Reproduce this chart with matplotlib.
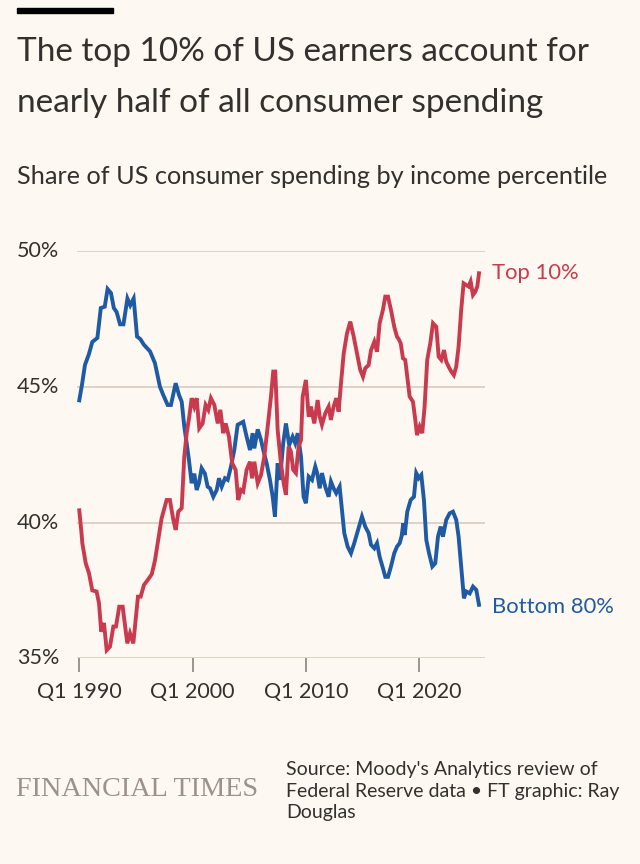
import matplotlib
matplotlib.use("Agg")
import matplotlib.pyplot as plt
import matplotlib.transforms as mtransforms

plt.rcParams["font.family"] = ["Lato", "DejaVu Sans"]

# data (decimal year, share %)
top10_years = [
    1990.0, 1990.2, 1990.27, 1990.57, 1990.86, 1991.15, 1991.53, 1991.74, 1991.94, 1992.18,
    1992.42, 1992.71, 1993.01, 1993.24, 1993.53, 1993.83, 1994.24, 1994.48, 1994.77, 1995.18,
    1995.42, 1995.71, 1996.07, 1996.4, 1996.68, 1996.97, 1997.27, 1997.71, 1998.0, 1998.3,
    1998.51, 1998.74, 1999.04, 1999.27, 1999.48, 1999.71, 1999.92, 2000.15, 2000.36, 2000.59,
    2000.89, 2001.15, 2001.39, 2001.62, 2001.92, 2002.22, 2002.45, 2002.71, 2002.92, 2003.21,
    2003.5, 2003.8, 2004.03, 2004.27, 2004.47, 2004.77, 2005.07, 2005.25, 2005.45, 2005.75,
    2006.04, 2006.33, 2006.63, 2006.92, 2007.12, 2007.3, 2007.51, 2007.8, 2008.04, 2008.24,
    2008.48, 2008.68, 2008.88, 2009.12, 2009.36, 2009.57, 2009.72, 2010.0, 2010.25, 2010.45,
    2010.74, 2011.04, 2011.22, 2011.42, 2011.71, 2012.01, 2012.21, 2012.45, 2012.68, 2012.89,
    2013.1, 2013.34, 2013.63, 2013.92, 2014.22, 2014.51, 2014.8, 2015.04, 2015.24, 2015.54,
    2015.75, 2016.04, 2016.28, 2016.51, 2016.8, 2017.01, 2017.25, 2017.51, 2017.8, 2018.04,
    2018.2, 2018.37, 2018.57, 2018.77, 2018.95, 2019.16, 2019.45, 2019.66, 2019.81, 2020.04,
    2020.27, 2020.48, 2020.71, 2020.98, 2021.22, 2021.51, 2021.72, 2021.95, 2022.19, 2022.39,
    2022.6, 2022.83, 2023.06, 2023.27, 2023.48, 2023.71, 2023.92, 2024.15, 2024.37, 2024.54,
    2024.75, 2024.95, 2025.13, 2025.28,
]
top10 = [
    40.45, 39.6, 39.24, 38.5, 38.13, 37.5, 37.46, 37.03, 35.98, 36.3,
    35.3, 35.43, 36.17, 36.17, 36.9, 36.9, 35.55, 35.92, 35.55, 37.27,
    37.27, 37.7, 37.9, 38.1, 38.6, 39.36, 40.16, 40.83, 40.83, 40.1,
    39.73, 40.4, 40.53, 42.43, 43.29, 43.9, 44.58, 44.27, 44.58, 43.47,
    43.65, 44.33, 44.15, 44.58, 44.33, 43.65, 44.15, 43.29, 43.65, 43.16,
    42.18, 41.94, 40.83, 41.2, 41.14, 41.94, 42.24, 41.63, 42.24, 41.45,
    41.75, 42.43, 43.53, 44.64, 45.56, 45.56, 43.41, 42.18, 41.45, 41.02,
    42.8, 42.61, 41.94, 41.82, 42.8, 43.04, 44.64, 45.25, 43.9, 44.27,
    43.65, 44.51, 43.9, 43.6, 44.02, 44.27, 43.78, 44.27, 44.58, 44.08,
    45.13, 46.23, 46.97, 47.4, 46.85, 46.23, 45.62, 45.37, 45.68, 45.8,
    46.35, 46.66, 46.29, 47.34, 47.83, 48.32, 48.32, 47.83, 47.21, 46.85,
    46.75, 46.6, 46.05, 45.99, 45.37, 44.64, 44.45, 43.78, 43.22, 43.53,
    43.29, 44.27, 45.99, 46.6, 47.34, 47.21, 46.11, 45.99, 46.35, 45.92,
    45.74, 45.56, 45.43, 45.74, 46.48, 47.83, 48.81, 48.75, 48.69, 48.87,
    48.38, 48.5, 48.69, 49.18,
]

bottom80_years = [
    1990.0, 1990.25, 1990.5, 1990.85, 1991.15, 1991.6, 1991.9, 1992.25, 1992.5, 1992.8,
    1993.05, 1993.3, 1993.6, 1993.9, 1994.25, 1994.5, 1994.8, 1995.1, 1995.4, 1995.7,
    1996.25, 1996.68, 1997.12, 1997.41, 1997.8, 1998.09, 1998.51, 1998.8, 1999.04, 1999.27,
    1999.48, 1999.68, 1999.92, 2000.15, 2000.36, 2000.56, 2000.8, 2001.09, 2001.33, 2001.54,
    2001.83, 2002.13, 2002.33, 2002.57, 2002.86, 2003.1, 2003.39, 2003.68, 2003.98, 2004.2,
    2004.47, 2004.77, 2005.07, 2005.3, 2005.45, 2005.75, 2006.04, 2006.24, 2006.54, 2006.83,
    2007.07, 2007.27, 2007.51, 2007.71, 2008.0, 2008.24, 2008.53, 2008.83, 2009.06, 2009.28,
    2009.57, 2009.8, 2010.0, 2010.25, 2010.54, 2010.83, 2011.0, 2011.22, 2011.42, 2011.71,
    2012.01, 2012.21, 2012.45, 2012.68, 2012.98, 2013.19, 2013.39, 2013.69, 2013.98, 2014.27,
    2014.57, 2014.95, 2015.24, 2015.54, 2015.75, 2016.04, 2016.28, 2016.51, 2016.8, 2017.01,
    2017.25, 2017.51, 2017.8, 2018.04, 2018.28, 2018.45, 2018.6, 2018.72, 2018.95, 2019.25,
    2019.54, 2019.74, 2019.96, 2020.19, 2020.42, 2020.63, 2020.87, 2021.16, 2021.42, 2021.66,
    2021.9, 2022.1, 2022.39, 2022.69, 2022.98, 2023.27, 2023.48, 2023.71, 2023.95, 2024.16,
    2024.46, 2024.75, 2025.04, 2025.28,
]
bottom80 = [
    44.5, 45.1, 45.8, 46.2, 46.65, 46.8, 47.9, 47.95, 48.6, 48.45,
    47.9, 47.75, 47.3, 47.3, 48.25, 48.0, 48.25, 46.85, 46.75, 46.55,
    46.3, 45.87, 45.0, 44.7, 44.33, 44.33, 45.13, 44.7, 44.45, 43.53,
    42.92, 42.3, 41.45, 41.8, 41.2, 41.45, 42.0, 41.8, 41.32, 41.26,
    40.95, 41.2, 41.63, 41.32, 41.63, 41.57, 42.06, 42.67, 43.6, 43.65,
    43.71, 43.16, 42.67, 43.29, 42.73, 43.43, 43.04, 42.67, 42.18, 41.57,
    40.95, 40.22, 42.18, 41.57, 42.92, 43.65, 42.86, 43.16, 42.92, 43.29,
    42.43, 40.95, 40.71, 41.69, 41.57, 42.06, 41.82, 41.26, 41.82, 41.32,
    40.95, 41.51, 41.26, 41.08, 41.32, 40.46, 39.61, 39.11, 38.87, 39.24,
    39.67, 40.22, 39.85, 39.61, 39.18, 39.05, 39.24, 38.74, 38.32, 38.0,
    38.0, 38.38, 38.87, 39.11, 39.24, 39.5, 39.97, 39.54, 40.4, 40.83,
    40.95, 41.82, 41.63, 41.75, 40.83, 39.36, 38.87, 38.38, 38.5, 39.48,
    39.85, 39.48, 40.1, 40.34, 40.4, 40.1, 39.48, 38.38, 37.21, 37.46,
    37.39, 37.64, 37.52, 36.97,
]

y_ticks = [35, 40, 45, 50]
x_ticks = [1990, 2000, 2010, 2020]
x_tick_labels = ["Q1 1990", "Q1 2000", "Q1 2010", "Q1 2020"]

bg = "#fdf8f1"
red = "#ca3a4f"
blue = "#1f5aa5"
text_col = "#33302e"
grid_col = "#d6ccc2"

fig = plt.figure(figsize=(6.4, 8.64), dpi=100, facecolor=bg)
ax = fig.add_axes([77 / 640, 1 - 658.3 / 864, 408 / 640, (658.3 - 251) / 864])
ax.set_facecolor(bg)

for yv in y_ticks:
    ax.axhline(yv, color=grid_col, lw=1.2, zorder=1)

ax.plot(bottom80_years, bottom80, color=blue, lw=2.8, zorder=3,
        solid_joinstyle="miter", clip_on=False)
ax.plot(top10_years, top10, color=red, lw=2.8, zorder=3,
        solid_joinstyle="miter", clip_on=False)

ax.set_xlim(1989.8, 2025.81)
ax.set_ylim(35, 50)

for s in ax.spines.values():
    s.set_visible(False)

ax.set_yticks([])
ax.set_xticks(x_ticks)
ax.set_xticklabels(x_tick_labels)
ax.tick_params(axis="x", length=10, width=1.2, color="#8c847e", pad=7,
               labelsize=15.5, labelcolor=text_col)

# y labels sit left of the grid, on the page margin
trans = mtransforms.blended_transform_factory(fig.transFigure, ax.transData)
for yv in y_ticks:
    ax.text(17 / 640, yv, f"{yv}%", fontsize=15.5, color=text_col, ha="left",
            va="center", transform=trans, clip_on=False)

ax.text(2026.4, top10[-1] + 0.02, "Top 10%", color=red, fontsize=15.8,
        ha="left", va="center")
ax.text(2026.4, bottom80[-1] - 0.08, "Bottom 80%", color=blue, fontsize=15.8,
        ha="left", va="center")

# header
fig.patches.append(plt.Rectangle((17 / 640, 1 - 13 / 864), 96 / 640, 5 / 864,
                                 transform=fig.transFigure, color="#000000"))
fig.text(17 / 640, 1 - 52 / 864, "The top 10% of US earners account for",
         fontsize=24, color=text_col, va="center", ha="left")
fig.text(17 / 640, 1 - 103 / 864, "nearly half of all consumer spending",
         fontsize=24, color=text_col, va="center", ha="left")
fig.text(17 / 640, 1 - 176 / 864, "Share of US consumer spending by income percentile",
         fontsize=18.2, color=text_col, va="center", ha="left")

# footer
fig.text(16 / 640, 1 - 789 / 864, "FINANCIAL TIMES", family="Liberation Serif",
         fontsize=20.3, color="#9b928b", va="center", ha="left")
fig.text(286 / 640, 1 - 791 / 864,
         "Source: Moody's Analytics review of\nFederal Reserve data \u2022 FT graphic: Ray\nDouglas",
         fontsize=14, color=text_col, va="center", ha="left", linespacing=1.32)

fig.savefig("out.png", dpi=100, facecolor=bg)
